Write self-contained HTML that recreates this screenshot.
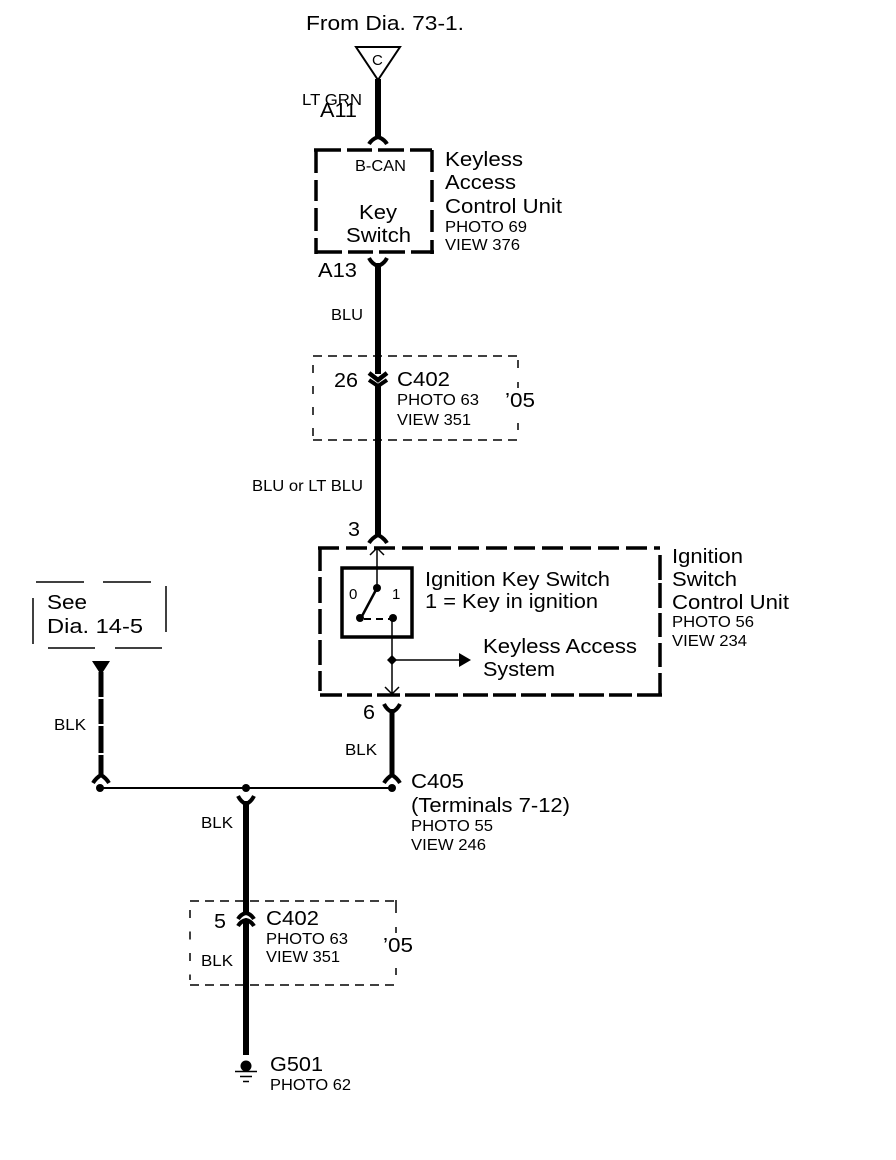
<!DOCTYPE html>
<html><head><meta charset="utf-8"><style>
html,body{margin:0;padding:0;background:#fff}
svg{display:block}
text{font-family:"Liberation Sans",sans-serif;fill:#000}
.l{font-size:20px}.m{font-size:15.5px}
</style></head><body>
<svg width="896" height="1160" viewBox="0 0 896 1160" xmlns="http://www.w3.org/2000/svg">
<rect width="896" height="1160" fill="#fff"/>
<!-- top -->
<text class="l" x="306" y="30" textLength="158" lengthAdjust="spacingAndGlyphs">From Dia.  73-1.</text>
<path d="M356 47H400L378 80Z" fill="#fff" stroke="#000" stroke-width="2"/>
<text x="372" y="65" style="font-size:15px">C</text>
<path d="M378 79V138" stroke="#000" stroke-width="6" fill="none"/>
<text class="m" x="302" y="105" textLength="60" lengthAdjust="spacingAndGlyphs">LT GRN</text>
<text class="l" x="320" y="117" textLength="37" lengthAdjust="spacingAndGlyphs">A11</text>
<path d="M369 144Q372 139 378 137Q384 139 387 144" stroke="#000" stroke-width="4" fill="none"/>
<!-- keyless box -->
<g stroke="#000" stroke-width="3.5" fill="none">
<path d="M314 150H432" stroke-dasharray="27 6 25 6 26 6 22"/>
<path d="M316 150V254" stroke-dasharray="23 7 21 7 23 7 22"/>
<path d="M432 150V254" stroke-dasharray="22 8 22 8 22 8 18"/>
<path d="M316 252H434" stroke-dasharray="26 6 25 6 26 6 23"/>
</g>
<text class="m" x="355" y="171" textLength="51" lengthAdjust="spacingAndGlyphs">B-CAN</text>
<text class="l" x="359" y="219" textLength="38" lengthAdjust="spacingAndGlyphs">Key</text>
<text class="l" x="346" y="242" textLength="65" lengthAdjust="spacingAndGlyphs">Switch</text>
<text class="l" x="445" y="166" textLength="78" lengthAdjust="spacingAndGlyphs">Keyless</text>
<text class="l" x="445" y="189" textLength="71" lengthAdjust="spacingAndGlyphs">Access</text>
<text class="l" x="445" y="213" textLength="117" lengthAdjust="spacingAndGlyphs">Control Unit</text>
<text class="m" x="445" y="232" textLength="82" lengthAdjust="spacingAndGlyphs">PHOTO 69</text>
<text class="m" x="445" y="250" textLength="75" lengthAdjust="spacingAndGlyphs">VIEW 376</text>
<text class="l" x="318" y="277" textLength="39" lengthAdjust="spacingAndGlyphs">A13</text>
<path d="M369 258Q372 264 378 266Q384 264 387 258" stroke="#000" stroke-width="4" fill="none"/>
<path d="M378 263V374" stroke="#000" stroke-width="6" fill="none"/>
<text class="m" x="331" y="320" textLength="32" lengthAdjust="spacingAndGlyphs">BLU</text>
<!-- C402 upper -->
<g stroke="#000" stroke-width="1.5" fill="none">
<path d="M313 356H518" stroke-dasharray="9 6"/>
<path d="M313 440H518" stroke-dasharray="9 6"/>
<path d="M313 365V437" stroke-dasharray="8 13"/>
<path d="M518 360V368M518 382V388M518 423V430"/>
</g>
<path d="M369 373L378 380L387 373" stroke="#000" stroke-width="4.5" fill="none"/>
<path d="M369 380L378 386L387 380" stroke="#000" stroke-width="4" fill="none"/>
<path d="M378 386V537" stroke="#000" stroke-width="6" fill="none"/>
<text class="l" x="334" y="387" textLength="24" lengthAdjust="spacingAndGlyphs">26</text>
<text class="l" x="397" y="386" textLength="53" lengthAdjust="spacingAndGlyphs">C402</text>
<text class="m" x="397" y="405" textLength="82" lengthAdjust="spacingAndGlyphs">PHOTO 63</text>
<text class="m" x="397" y="425" textLength="74" lengthAdjust="spacingAndGlyphs">VIEW 351</text>
<text class="l" x="505" y="407" textLength="30" lengthAdjust="spacingAndGlyphs">’05</text>
<text class="m" x="252" y="491" textLength="111" lengthAdjust="spacingAndGlyphs">BLU or LT BLU</text>
<text class="l" x="348" y="536" textLength="12" lengthAdjust="spacingAndGlyphs">3</text>
<path d="M369 543Q372 538 378 535Q384 538 387 543" stroke="#000" stroke-width="4" fill="none"/>
<!-- ignition box -->
<g stroke="#000" stroke-width="3.5" fill="none">
<path d="M318 548H660" stroke-dasharray="21 7"/>
<path d="M320 548V695" stroke-dasharray="23 6 26 6 25 6 25 6 20"/>
<path d="M660 555V580M660 583V608M660 613V637M660 643V667M660 673V695"/>
<path d="M662 695H320" stroke-dasharray="25 5 23 5"/>
</g>
<rect x="342" y="568" width="70" height="69" fill="#fff" stroke="#000" stroke-width="3.5"/>
<path d="M377 588V548M370 555L377 548L384 555" stroke="#000" stroke-width="1.5" fill="none"/>
<circle cx="377" cy="588" r="4"/>
<path d="M377 588L361 618" stroke="#000" stroke-width="2.5"/>
<circle cx="360" cy="618" r="4"/>
<circle cx="393" cy="618" r="4"/>
<path d="M364 619H392" stroke="#000" stroke-width="2" stroke-dasharray="7 5"/>
<path d="M392 618V694M385 687L392 694L399 687" stroke="#000" stroke-width="1.5" fill="none"/>
<path d="M392 655L397 660L392 665L387 660Z"/>
<path d="M392 660H460" stroke="#000" stroke-width="1.5"/>
<path d="M459 653L471 660L459 667Z"/>
<text x="349" y="599" style="font-size:15px">0</text>
<text x="392" y="599" style="font-size:15px">1</text>
<text class="l" x="425" y="586" textLength="185" lengthAdjust="spacingAndGlyphs">Ignition Key Switch</text>
<text class="l" x="425" y="608" textLength="173" lengthAdjust="spacingAndGlyphs">1 = Key in ignition</text>
<text class="l" x="483" y="653" textLength="154" lengthAdjust="spacingAndGlyphs">Keyless Access</text>
<text class="l" x="483" y="676" textLength="72" lengthAdjust="spacingAndGlyphs">System</text>
<text class="l" x="672" y="563" textLength="71" lengthAdjust="spacingAndGlyphs">Ignition</text>
<text class="l" x="672" y="586" textLength="65" lengthAdjust="spacingAndGlyphs">Switch</text>
<text class="l" x="672" y="609" textLength="117" lengthAdjust="spacingAndGlyphs">Control Unit</text>
<text class="m" x="672" y="627" textLength="82" lengthAdjust="spacingAndGlyphs">PHOTO 56</text>
<text class="m" x="672" y="646" textLength="75" lengthAdjust="spacingAndGlyphs">VIEW 234</text>
<text class="l" x="363" y="719" textLength="12" lengthAdjust="spacingAndGlyphs">6</text>
<path d="M384 704Q387 710 392 712Q397 710 400 704" stroke="#000" stroke-width="4" fill="none"/>
<path d="M392 709V777" stroke="#000" stroke-width="5" fill="none"/>
<path d="M384 783Q387 778 392 775Q397 778 400 783" stroke="#000" stroke-width="4" fill="none"/>
<text class="m" x="345" y="755" textLength="32" lengthAdjust="spacingAndGlyphs">BLK</text>
<circle cx="392" cy="788" r="4"/>
<text class="l" x="411" y="788" textLength="53" lengthAdjust="spacingAndGlyphs">C405</text>
<text class="l" x="411" y="812" textLength="159" lengthAdjust="spacingAndGlyphs">(Terminals 7-12)</text>
<text class="m" x="411" y="831" textLength="82" lengthAdjust="spacingAndGlyphs">PHOTO 55</text>
<text class="m" x="411" y="850" textLength="75" lengthAdjust="spacingAndGlyphs">VIEW 246</text>
<!-- see box -->
<path d="M36 582H84M103 582H151M166 586V632M33 598V644M48 648H95M115 648H162" stroke="#000" stroke-width="1.5" fill="none"/>
<text class="l" x="47" y="609" textLength="40" lengthAdjust="spacingAndGlyphs">See</text>
<text class="l" x="47" y="633" textLength="96" lengthAdjust="spacingAndGlyphs">Dia.  14-5</text>
<path d="M92 661H110L101 675Z"/>
<path d="M101 672V697M101 699V724M101 726V753M101 755V777" stroke="#000" stroke-width="5" fill="none"/>
<path d="M93 783Q96 778 101 775Q106 778 109 783" stroke="#000" stroke-width="4" fill="none"/>
<text class="m" x="54" y="730" textLength="32" lengthAdjust="spacingAndGlyphs">BLK</text>
<circle cx="100" cy="788" r="4"/>
<path d="M100 788H392" stroke="#000" stroke-width="2"/>
<circle cx="246" cy="788" r="4"/>
<path d="M238 796Q241 802 246 804Q251 802 254 796" stroke="#000" stroke-width="4" fill="none"/>
<path d="M246 801V914" stroke="#000" stroke-width="6" fill="none"/>
<text class="m" x="201" y="828" textLength="32" lengthAdjust="spacingAndGlyphs">BLK</text>
<!-- C402 lower -->
<g stroke="#000" stroke-width="1.5" fill="none">
<path d="M190 901H396" stroke-dasharray="9 6"/>
<path d="M190 985H396" stroke-dasharray="9 6"/>
<path d="M190 910V980" stroke-dasharray="8 13.5"/>
<path d="M396 900V913M396 927V933M396 968V975"/>
</g>
<path d="M238 919Q241 914 246 913Q251 914 254 919" stroke="#000" stroke-width="4" fill="none"/>
<path d="M238 926Q241 921 246 920Q251 921 254 926" stroke="#000" stroke-width="4" fill="none"/>
<path d="M246 922V1055" stroke="#000" stroke-width="6" fill="none"/>
<text class="l" x="214" y="928" textLength="12" lengthAdjust="spacingAndGlyphs">5</text>
<text class="l" x="266" y="925" textLength="53" lengthAdjust="spacingAndGlyphs">C402</text>
<text class="m" x="266" y="944" textLength="82" lengthAdjust="spacingAndGlyphs">PHOTO 63</text>
<text class="m" x="266" y="962" textLength="74" lengthAdjust="spacingAndGlyphs">VIEW 351</text>
<text class="l" x="383" y="952" textLength="30" lengthAdjust="spacingAndGlyphs">’05</text>
<text class="m" x="201" y="966" textLength="32" lengthAdjust="spacingAndGlyphs">BLK</text>
<circle cx="246" cy="1066" r="5.5"/>
<path d="M235 1071.5H257M240 1076.5H252M243 1081.5H249" stroke="#000" stroke-width="1.5" fill="none"/>
<text class="l" x="270" y="1071" textLength="53" lengthAdjust="spacingAndGlyphs">G501</text>
<text class="m" x="270" y="1090" textLength="81" lengthAdjust="spacingAndGlyphs">PHOTO 62</text>
</svg>
</body></html>
